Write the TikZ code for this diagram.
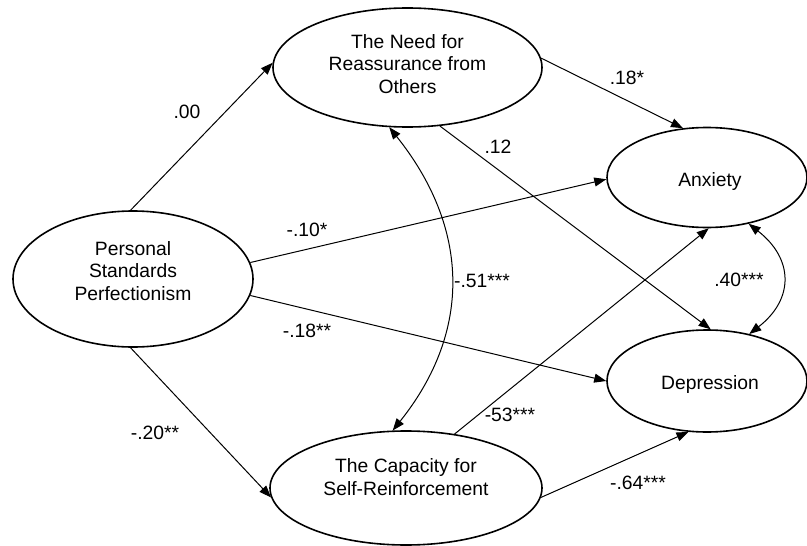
\documentclass[tikz,border=0pt]{standalone}
\usepackage{fontspec}
\setmainfont{Liberation Sans}
\usetikzlibrary{arrows.meta,shapes.geometric}
\begin{document}
\begin{tikzpicture}[x=1pt,y=-1pt,
  ell/.style={draw, ellipse, line width=1.6pt, inner sep=0pt},
  txt/.style={font=\fontsize{19.3}{22.5}\selectfont, align=center, inner sep=0pt},
  lab/.style={font=\fontsize{19.3}{22}\selectfont, inner sep=0pt},
  arr/.style={line width=1pt, -{Triangle[length=12pt,width=9pt]}},
  dbl/.style={line width=1pt, {Triangle[length=12pt,width=9pt]}-{Triangle[length=12pt,width=9pt]}}]
\useasboundingbox (0,0) rectangle (807,546);
% ellipses
\node[ell, minimum width=240pt, minimum height=136pt] (psp) at (133,279) {};
\node[ell, minimum width=269pt, minimum height=119pt] (need) at (407.5,67.5) {};
\node[ell, minimum width=200pt, minimum height=100pt] (anx) at (707,177.5) {};
\node[ell, minimum width=200pt, minimum height=102pt] (dep) at (707,381) {};
\node[ell, minimum width=272pt, minimum height=114pt] (cap) at (406,488) {};
% texts
\node[txt] (pspt) at (133,271) {Personal\\Standards\\Perfectionism};
\node[txt] (needt) at (407.5,64) {The Need for\\Reassurance from\\Others};
\node[txt] (anxt) at (710,182) {Anxiety};
\node[txt] (dept) at (710,385) {Depression};
\node[txt] (capt) at (406,477) {The Capacity for\\Self-Reinforcement};
% paths
\draw[arr] (psp.92.5) -- (need.178);
\draw[arr] (psp.8) -- (anx.181);
\draw[arr] (psp.-8) -- (dep.180);
\draw[arr] (psp.-92.5) -- (cap.184);
\draw[arr] (need.4) -- (anx.116);
\draw[arr] (need.-61) -- (dep.86);
\draw[arr] (cap.48) -- (anx.-88);
\draw[arr] (cap.-4) -- (dep.-110);
\draw[dbl] (need.253.6) .. controls +(80,100) and +(80,-100) .. (cap.103);
\draw[dbl] (anx.-48) .. controls +(45,35) and +(45,-35) .. (dep.48);
% labels
\node[lab] (l1) at (187,112) {.00};
\node[lab] (l2) at (307,230) {-.10*};
\node[lab] (l3) at (627,78) {.18*};
\node[lab] (l4) at (498,147) {.12};
\node[lab] (l5) at (482,281) {-.51***};
\node[lab] (l6) at (739,280) {.40***};
\node[lab] (l7) at (307,331) {-.18**};
\node[lab] (l8) at (155,433) {-.20**};
\node[lab] (l9) at (510,415) {-53***};
\node[lab] (l10) at (638,483) {-.64***};
\end{tikzpicture}
\end{document}
